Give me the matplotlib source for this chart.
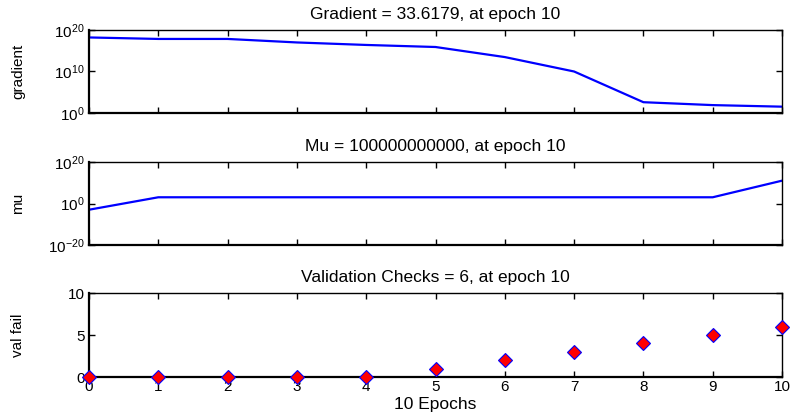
import matplotlib
matplotlib.use("Agg")
import matplotlib.pyplot as plt
from matplotlib.ticker import FixedLocator, LogFormatterSciNotation, NullLocator

plt.rcParams['font.family'] = ['Liberation Sans', 'DejaVu Sans']
plt.rcParams['mathtext.default'] = 'regular'

epochs = [0, 1, 2, 3, 4, 5, 6, 7, 8, 9, 10]
gradient = [1.6e18, 7e17, 7e17, 1e17, 2.5e16, 8e15, 3e13, 1e10, 4e2, 8e1, 33.6179]
mu = [1e-3, 1e3, 1e3, 1e3, 1e3, 1e3, 1e3, 1e3, 1e3, 1e3, 1e11]
val_fail = [0, 0, 0, 0, 0, 1, 2, 3, 4, 5, 6]

titles = ["Gradient = 33.6179, at epoch 10",
          "Mu = 100000000000, at epoch 10",
          "Validation Checks = 6, at epoch 10"]
ylabels = ["gradient", "mu", "val fail"]
xlabel = "10 Epochs"

W, H = 793, 419
fig = plt.figure(figsize=(W / 100, H / 100), dpi=100)

left, right = 89, 782
panels = [(30, 113), (162, 245), (293, 377)]
axes = []
for (t, b) in panels:
    ax = fig.add_axes([left / W, 1 - b / H, (right - left) / W, (b - t) / H])
    axes.append(ax)

blue = '#0000ff'
tfs = 12.5
tickfs = 11

# gradient
ax = axes[0]
ax.semilogy(epochs, gradient, color=blue, lw=1.6)
ax.set_ylim(1e0, 1e20)
ax.yaxis.set_major_locator(FixedLocator([1e0, 1e10, 1e20]))
ax.yaxis.set_major_formatter(LogFormatterSciNotation())
ax.yaxis.set_minor_locator(NullLocator())

# mu
ax = axes[1]
ax.semilogy(epochs, mu, color=blue, lw=1.6)
ax.set_ylim(1e-20, 1e20)
ax.yaxis.set_major_locator(FixedLocator([1e-20, 1e0, 1e20]))
ax.yaxis.set_major_formatter(LogFormatterSciNotation())
ax.yaxis.set_minor_locator(NullLocator())

# val fail
ax = axes[2]
ax.plot(epochs, val_fail, linestyle='none', marker='D', markersize=7,
        markerfacecolor='red', markeredgecolor=blue, markeredgewidth=0.8,
        clip_on=False, zorder=5)
ax.set_ylim(0, 10)
ax.set_yticks([0, 5, 10])
ax.set_xlabel(xlabel, fontsize=tfs, labelpad=2)

for i, ax in enumerate(axes):
    ax.set_xlim(0, 10)
    ax.set_xticks(epochs)
    ax.tick_params(direction='in', top=True, right=True, length=4, width=1.0,
                   labelsize=tickfs, pad=2, color='black')
    ax.tick_params(axis='y', pad=3)
    if i < 2:
        ax.tick_params(labelbottom=False)
    for s in ax.spines.values():
        s.set_linewidth(1.0)
    ax.spines['left'].set_linewidth(1.6)
    ax.spines['bottom'].set_linewidth(1.6)
    ax.set_title(titles[i], fontsize=tfs, pad=8)
    ax.set_ylabel(ylabels[i], fontsize=11)
    ax.yaxis.set_label_coords(-0.092, 0.5)

fig.savefig("out.png", dpi=100)
